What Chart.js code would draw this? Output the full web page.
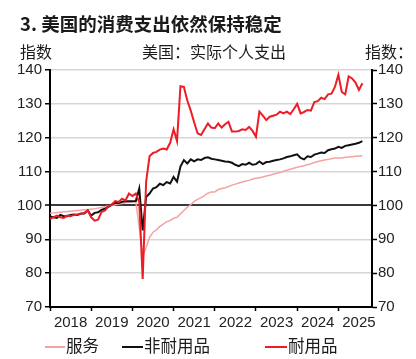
<!DOCTYPE html>
<html>
<head>
<meta charset="utf-8">
<script src="https://cdn.jsdelivr.net/npm/chart.js@4"></script>
<style>
  html, body { margin: 0; padding: 0; background: #fff; }
  #wrap { position: relative; width: 416px; height: 359px; overflow: hidden; }
  #chart { position: absolute; left: 0; top: 0; }
  .txt { position: absolute; white-space: nowrap; color: #1a1a1a; font-family: "Noto Sans CJK SC", "Liberation Sans", sans-serif; line-height: 1; }
  .title { left: 20px; top: 14px; font-size: 18.5px; font-weight: bold; }
  .sub { top: 43px; font-size: 16px; }
  .leg { top: 337px; font-size: 16.5px; }
  .swatch { position: absolute; height: 2px; top: 346px; }
</style>
</head>
<body>
<div id="wrap">
  <canvas id="chart" width="416" height="359"></canvas>
  <div class="txt title">3. 美国的消费支出依然保持稳定</div>
  <div class="txt sub" style="left:20px">指数</div>
  <div class="txt sub" style="left:142px">美国：实际个人支出</div>
  <div class="txt sub" style="left:365px">指数：</div>
  <div class="swatch" style="left:45px;width:20px;background:#f4a3a3"></div>
  <div class="txt leg" style="left:66px">服务</div>
  <div class="swatch" style="left:122px;width:21px;background:#111"></div>
  <div class="txt leg" style="left:144px">非耐用品</div>
  <div class="swatch" style="left:265px;width:22px;background:#ee1c25"></div>
  <div class="txt leg" style="left:288px">耐用品</div>
</div>
<script>
// 月次データ（2018年1月〜2025年8月）
const yearLabels = ['2018', '2019', '2020', '2021', '2022', '2023', '2024', '2025'];

// 服务
const services = [
    97.7, 97.8, 97.9, 98.0, 98.1, 98.2, 98.3, 98.4, 98.5, 98.6, 98.7, 98.8,
    98.9, 99.0, 99.2, 99.4, 99.6, 99.8, 100.0, 100.2, 100.4, 100.6, 100.8, 101.0,
    101.1, 101.1, 93.5, 85.0, 87.6, 90.5, 92.1, 92.8, 93.8, 94.5, 95.2, 95.5,
    96.2, 96.5, 97.5, 98.5, 99.5, 100.2, 101.2, 101.8, 102.3, 102.9, 103.6, 104.0,
    104.0, 104.7, 105.0, 105.2, 105.6, 106.0, 106.3, 106.6, 106.9, 107.2, 107.4, 107.8,
    108.0, 108.2, 108.4, 108.7, 108.9, 109.2, 109.5, 109.7, 110.1, 110.4, 110.7, 111.0,
    111.3, 111.5, 111.7, 112.0, 112.3, 112.7, 113.0, 113.2, 113.4, 113.6, 113.8, 114.0,
    114.0, 114.0, 114.2, 114.3, 114.4, 114.5, 114.6, 114.7
];

// 非耐用品
const nondurables = [
    96.7, 96.5, 96.3, 97.2, 96.8, 96.8, 97.2, 97.3, 97.2, 97.6, 97.6, 98.5,
    97.0, 97.8, 98.0, 98.7, 99.0, 99.6, 100.2, 100.8, 100.7, 101.1, 101.2, 101.2,
    101.2, 101.3, 105.0, 92.6, 102.5, 103.5, 105.0, 105.4, 106.4, 106.0, 106.9, 106.5,
    108.4, 107.0, 111.5, 113.4, 112.4, 113.6, 113.0, 113.6, 113.4, 114.0, 114.2, 113.8,
    113.6, 113.4, 113.2, 113.0, 112.9, 112.6, 112.0, 111.6, 112.2, 112.0, 112.6, 112.0,
    112.2, 113.0, 112.2, 112.8, 112.9, 113.2, 113.4, 113.6, 113.9, 114.3, 114.5, 114.8,
    115.1, 114.0, 113.6, 114.5, 114.3, 115.0, 115.3, 115.6, 115.5, 116.3, 116.6, 116.8,
    117.3, 117.0, 117.6, 117.8, 118.0, 118.2, 118.5, 119.0
];

// 耐用品
const durables = [
    96.0, 96.5, 97.0, 96.5, 96.3, 97.0, 96.8, 97.2, 97.3, 97.5, 97.8, 98.5,
    96.5, 95.5, 95.8, 98.0, 98.5, 99.7, 100.3, 101.3, 101.0, 102.0, 101.5, 103.5,
    102.8, 103.5, 101.0, 78.3, 107.0, 114.5, 115.5, 115.8, 116.5, 116.8, 116.5, 118.5,
    122.5, 119.0, 135.2, 135.0, 131.0, 128.0, 124.5, 121.3, 120.8, 122.5, 124.2, 123.0,
    122.8, 124.2, 123.0, 124.0, 124.7, 121.8, 121.8, 122.0, 122.5, 122.3, 123.2, 122.0,
    120.3, 127.7, 126.5, 125.2, 126.2, 126.5, 126.8, 127.7, 127.2, 127.7, 127.0, 128.4,
    130.0, 127.2, 127.6, 128.2, 128.0, 130.5, 130.8, 131.8, 131.4, 132.8, 133.0, 135.0,
    138.6, 133.5, 132.8, 138.1, 137.5, 136.3, 134.1, 136.1
];

const yTicks = [70, 80, 90, 100, 110, 120, 130, 140];

const tickFont = { family: '"Liberation Sans Narrow", "Arial Narrow", "Liberation Sans", sans-serif', size: 15 };

function toPoints(values) {
    return values.map((v, i) => ({ x: i, y: v }));
}

const ctx = document.getElementById('chart').getContext('2d');
new Chart(ctx, {
    type: 'line',
    data: {
        datasets: [
            { label: '耐用品', data: toPoints(durables), borderColor: '#ee1c25', borderWidth: 2, order: 0 },
            { label: '非耐用品', data: toPoints(nondurables), borderColor: '#111111', borderWidth: 2, order: 1 },
            { label: '服务', data: toPoints(services), borderColor: '#f4a3a3', borderWidth: 1.5, order: 2 }
        ]
    },
    options: {
        responsive: false,
        animation: false,
        devicePixelRatio: 1,
        layout: { padding: { top: 70, left: 0, right: 0, bottom: 0 } },
        elements: { point: { radius: 0 }, line: { tension: 0 } },
        plugins: { legend: { display: false }, tooltip: { enabled: false } },
        scales: {
            x: {
                type: 'linear',
                min: 0,
                max: 93.8,
                afterBuildTicks: function(scale) {
                    const t = [];
                    for (let v = 0; v <= 90; v += 6) t.push({ value: v });
                    scale.ticks = t;
                },
                afterFit: function(scale) { scale.height = 52; },
                ticks: {
                    autoSkip: false,
                    maxRotation: 0,
                    padding: 3,
                    color: '#222',
                    font: tickFont,
                    callback: function(value) {
                        return value % 12 === 6 ? yearLabels[(value - 6) / 12] : '';
                    }
                },
                grid: {
                    drawOnChartArea: false,
                    tickLength: 4,
                    tickWidth: 1.5,
                    tickColor: function(c) { return c.tick && c.tick.value % 12 === 0 ? '#000' : 'rgba(0,0,0,0)'; }
                },
                border: { display: true, color: '#000', width: 2 }
            },
            y: {
                position: 'left',
                min: 70,
                max: 140,
                afterBuildTicks: function(scale) { scale.ticks = yTicks.map(v => ({ value: v })); },
                afterFit: function(scale) { scale.width = 50; },
                ticks: { padding: 3, color: '#222', font: tickFont },
                grid: {
                    color: function(c) { return c.tick && c.tick.value === 100 ? '#3a3a3a' : '#d6d6d6'; },
                    lineWidth: function(c) { return c.tick && c.tick.value === 100 ? 2 : 1.5; },
                    tickLength: 5,
                    tickColor: '#000',
                    tickWidth: 1.5
                },
                border: { display: true, color: '#000', width: 2 }
            },
            y2: {
                position: 'right',
                min: 70,
                max: 140,
                afterBuildTicks: function(scale) { scale.ticks = yTicks.map(v => ({ value: v })); },
                afterFit: function(scale) { scale.width = 44; },
                ticks: { padding: 1, color: '#222', font: tickFont },
                grid: { drawOnChartArea: false, tickLength: 5, tickColor: '#000', tickWidth: 1.5 },
                border: { display: true, color: '#000', width: 2 }
            }
        }
    }
});
</script>
</body>
</html>
